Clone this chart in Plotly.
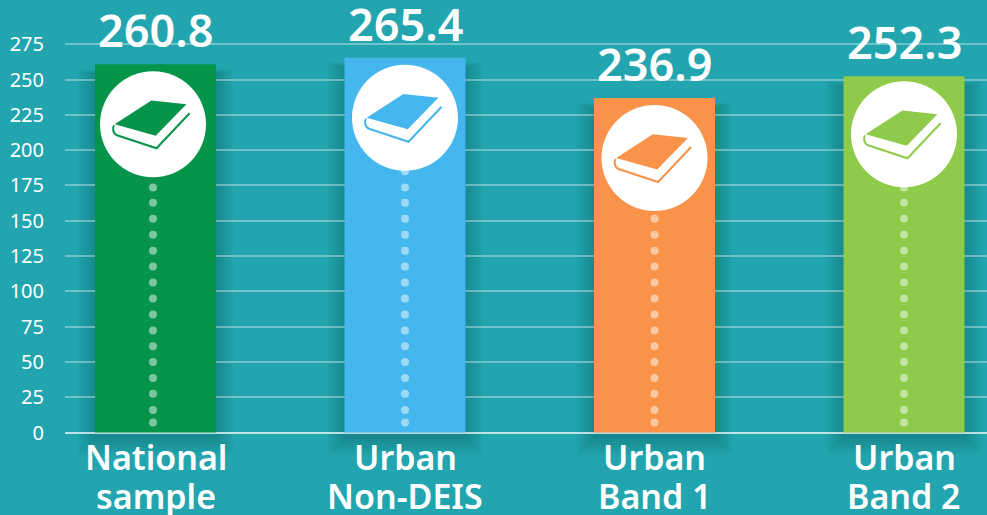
import plotly.graph_objects as go

categories = ["National<br>sample", "Urban<br>Non-DEIS", "Urban<br>Band 1", "Urban<br>Band 2"]
values = [260.8, 265.4, 236.9, 252.3]
colors = ["#05944A", "#46B6EE", "#F9934A", "#8FCB4B"]
y_ticks = list(range(0, 276, 25))
dot_levels = [7, 16, 27.5, 38.6, 49.9, 61, 72.3, 83.6, 94.9, 106.2, 117.5, 128.8, 140, 151.4, 162.7, 173.5, 185]
icon_x_offset_px = [-2.5, 0, 0, 0]
icon_y_offset_px = [60, 60, 60, 58]

BG = "#22A5AE"
W, H = 987, 515
L = 65
UNIT_PX = 249.5
PX_PER_VAL = 35.3 / 25
xr = [-(155.5 - L) / UNIT_PX, (W - 155.5) / UNIT_PX]
yr = [-(H - 432.5) / PX_PER_VAL, 432.5 / PX_PER_VAL]
xs = list(range(len(values)))

fig = go.Figure()

icon_xs = [x + o / UNIT_PX for x, o in zip(xs, icon_x_offset_px)]
icon_ys = [v - o / PX_PER_VAL for v, o in zip(values, icon_y_offset_px)]

fig.add_trace(go.Bar(x=xs, y=values, width=121 / UNIT_PX, marker=dict(color=colors, line_width=0), hoverinfo="skip"))

dx, dy = [], []
for ix, iy in zip(icon_xs, icon_ys):
    for lv in dot_levels:
        if lv < iy:
            dx.append(ix)
            dy.append(lv)
fig.add_trace(go.Scatter(x=dx, y=dy, mode="markers", marker=dict(size=8, color="rgba(255,255,255,0.48)"), hoverinfo="skip"))
fig.add_trace(go.Scatter(x=icon_xs, y=icon_ys, mode="markers", marker=dict(size=106, color="white", line_width=0), hoverinfo="skip"))

def p(points, close=True):
    s = "M" + " L".join(f"{a},{-b}" for a, b in points)
    return s + (" Z" if close else "")

cover = p([(-1.7, -23.7), (33.4, -20), (2.7, 11.6), (-38.3, 0)])
edge = "M-39,-1 C-40.5,-3 -40.5,-9 -36,-11 L3.5,-24 L36.6,11"

shapes = []
# soft shadow, heavier below the bar
for k in range(9):
    g = 1 + k * 2
    for x, v in zip(xs, values):
        shapes.append(dict(type="rect", layer="below", xref="x", yref="y", xsizemode="pixel", ysizemode="pixel",
                           xanchor=x, yanchor=0, x0=-60.5 - g, x1=60.5 + g, y0=-g - 5, y1=(v * PX_PER_VAL) - 10 + g * 0.3,
                           fillcolor="rgba(10,50,70,0.03)", line_width=0))
for ix, iy, c in zip(icon_xs, icon_ys, colors):
    base = dict(type="path", layer="above", xref="x", yref="y", xsizemode="pixel", ysizemode="pixel", xanchor=ix, yanchor=iy)
    shapes.append(dict(base, path=cover, fillcolor=c, line=dict(width=0)))
    shapes.append(dict(base, path=edge, fillcolor="rgba(0,0,0,0)", line=dict(color=c, width=2)))

annotations = []
for x, c in zip(xs, categories):
    for line, shift in zip(c.split("<br>"), (-24, -63)):
        annotations.append(dict(x=x, y=0, xref="x", yref="y", yshift=shift, text=line, showarrow=False, yanchor="middle",
                                xanchor="center", font=dict(family="Noto Sans", size=34, color="white", weight=600)))
for x, v in zip(xs, values):
    annotations.append(dict(x=x, y=v, xref="x", yref="y", yshift=2, text=f"{v:.1f}", showarrow=False, yanchor="bottom",
                            xanchor="center", font=dict(family="Noto Sans", size=45, color="white", weight=600)))

fig.update_layout(
    width=W, height=H, autosize=False, showlegend=False,
    margin=dict(l=L, r=0, t=0, b=0, pad=0),
    paper_bgcolor=BG, plot_bgcolor=BG, shapes=shapes, annotations=annotations,
    xaxis=dict(range=xr, visible=False, fixedrange=True),
    yaxis=dict(range=yr, tickvals=y_ticks, ticktext=[str(t) for t in y_ticks], showgrid=True,
               gridcolor="rgba(255,255,255,0.35)", gridwidth=1.5, zeroline=True, zerolinecolor="rgba(255,255,255,0.7)",
               zerolinewidth=2, showline=False, ticks="", ticklen=0, ticklabelstandoff=20,
               tickfont=dict(family="Noto Sans", size=20, color="white"), fixedrange=True),
)
fig.write_html("out.html", config=dict(displayModeBar=False),
               post_script="document.body.style.margin='0';document.body.style.overflow='hidden';")
